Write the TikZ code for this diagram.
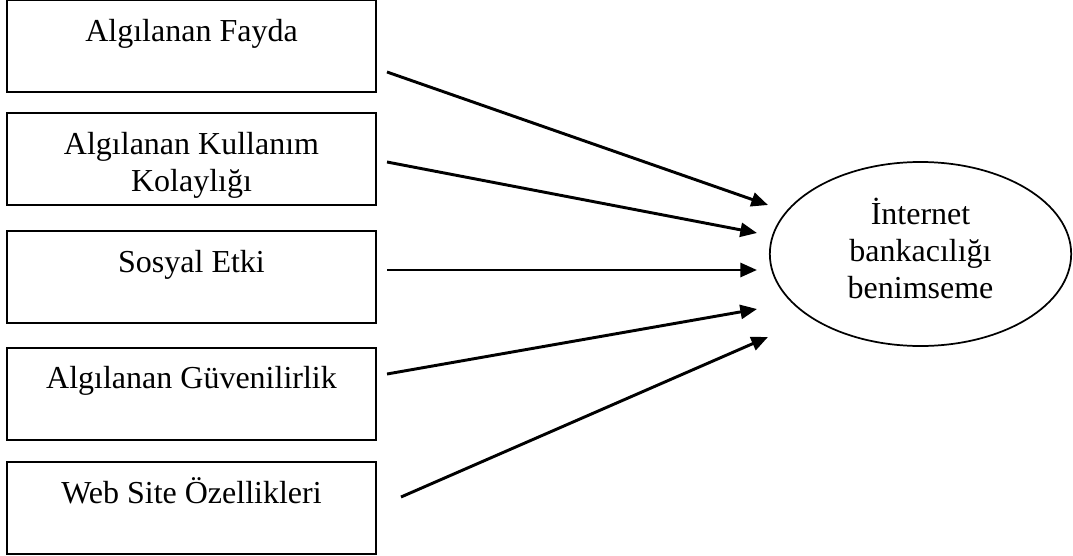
\documentclass[tikz,border=0pt]{standalone}
\usepackage{fontspec}
\setmainfont{Liberation Serif}
\usetikzlibrary{arrows.meta,shapes.geometric}
\begin{document}
\begin{tikzpicture}[x=0.75pt,y=-0.75pt,
  box/.style={draw,line width=1.5pt,minimum width=276.75pt,minimum height=69pt,inner sep=0pt},
  lbl/.style={font=\fontsize{24}{27.75}\selectfont,anchor=base,inner sep=0pt,align=center},
  conn/.style={line width=2.2pt,-{Triangle[length=12.5pt,width=10.5pt]}}]
\useasboundingbox (0,0) rectangle (1073,556);
\node[box] (b1) at (191.5,46.5) {};
\node[box] (b2) at (191.5,159) {};
\node[box] (b3) at (191.5,277) {};
\node[box] (b4) at (191.5,393.5) {};
\node[box] (b5) at (191.5,508) {};
\node[lbl] (t1) at (191.5,42) {Algılanan Fayda};
\node[lbl] (t2) at (191.5,191) {Algılanan Kullanım\\Kolaylığı};
\node[lbl] (t3) at (191.5,272) {Sosyal Etki};
\node[lbl] (t4) at (191.5,388) {Algılanan Güvenilirlik};
\node[lbl] (t5) at (191.5,503) {Web Site Özellikleri};
\node[draw,ellipse,line width=1.3pt,minimum width=226pt,minimum height=138pt,inner sep=0pt] (e) at (920.5,254) {};
\node[lbl] (te) at (920.5,298) {İnternet\\bankacılığı\\benimseme};
\coordinate (s1) at (387,72);  \coordinate (e1) at (768,205);
\coordinate (s2) at (387,162); \coordinate (e2) at (757,233);
\coordinate (s3) at (387,270); \coordinate (e3) at (757,270);
\coordinate (s4) at (387,374); \coordinate (e4) at (757,309);
\coordinate (s5) at (401,497); \coordinate (e5) at (768,337);
\draw[conn] (s1) -- (e1);
\draw[conn] (s2) -- (e2);
\draw[conn] (s3) -- (e3);
\draw[conn] (s4) -- (e4);
\draw[conn] (s5) -- (e5);
\end{tikzpicture}
\end{document}
